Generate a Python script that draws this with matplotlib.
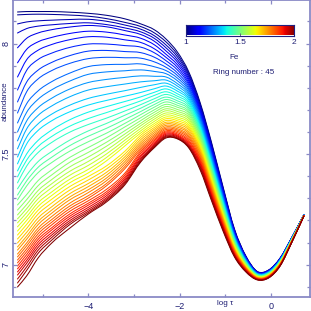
import matplotlib
matplotlib.use('Agg')
import matplotlib.pyplot as plt
import numpy as np
from matplotlib.ticker import MultipleLocator
from matplotlib.path import Path
from matplotlib.patches import PathPatch

# ---------------- data ----------------
log_tau = [-5.55, -5.35, -5.1, -4.8, -4.4, -4.0, -3.6, -3.2, -2.85, -2.55, -2.3, -2.05,
           -1.8, -1.55, -1.3, -1.05, -0.8, -0.55, -0.3, -0.05, 0.2, 0.45, 0.72]

ring_01 = [8.143, 8.145, 8.145, 8.145, 8.142, 8.137, 8.128, 8.112, 8.089, 8.062, 8.021, 7.962, 7.872, 7.732, 7.551, 7.352, 7.161, 7.039, 6.969, 6.976, 7.030, 7.121, 7.225]
ring_02 = [8.130, 8.132, 8.133, 8.132, 8.129, 8.124, 8.113, 8.096, 8.077, 8.048, 8.008, 7.951, 7.864, 7.725, 7.545, 7.347, 7.158, 7.037, 6.968, 6.975, 7.029, 7.120, 7.225]
ring_03 = [8.089, 8.098, 8.103, 8.106, 8.109, 8.110, 8.101, 8.084, 8.065, 8.035, 7.994, 7.940, 7.856, 7.718, 7.539, 7.343, 7.155, 7.036, 6.967, 6.974, 7.028, 7.120, 7.225]
ring_04 = [8.048, 8.068, 8.079, 8.085, 8.091, 8.094, 8.086, 8.071, 8.053, 8.023, 7.981, 7.928, 7.848, 7.711, 7.533, 7.338, 7.152, 7.034, 6.966, 6.974, 7.028, 7.119, 7.225]
ring_05 = [7.981, 8.024, 8.048, 8.063, 8.075, 8.082, 8.076, 8.059, 8.041, 8.010, 7.967, 7.917, 7.839, 7.704, 7.527, 7.334, 7.150, 7.032, 6.966, 6.973, 7.027, 7.119, 7.225]
ring_06 = [7.913, 7.974, 8.008, 8.028, 8.046, 8.056, 8.052, 8.039, 8.024, 7.994, 7.952, 7.905, 7.831, 7.697, 7.521, 7.329, 7.147, 7.031, 6.965, 6.972, 7.026, 7.118, 7.224]
ring_07 = [7.849, 7.927, 7.970, 7.996, 8.018, 8.031, 8.029, 8.017, 8.005, 7.976, 7.938, 7.893, 7.822, 7.691, 7.515, 7.325, 7.144, 7.029, 6.964, 6.971, 7.025, 7.118, 7.224]
ring_08 = [7.790, 7.879, 7.928, 7.957, 7.983, 7.998, 7.998, 7.991, 7.984, 7.958, 7.923, 7.881, 7.814, 7.684, 7.509, 7.320, 7.141, 7.028, 6.963, 6.970, 7.024, 7.117, 7.224]
ring_09 = [7.736, 7.826, 7.880, 7.915, 7.946, 7.966, 7.969, 7.964, 7.959, 7.938, 7.908, 7.868, 7.805, 7.677, 7.503, 7.316, 7.138, 7.026, 6.962, 6.969, 7.023, 7.117, 7.224]
ring_10 = [7.686, 7.782, 7.840, 7.878, 7.911, 7.932, 7.938, 7.936, 7.934, 7.917, 7.893, 7.856, 7.796, 7.670, 7.497, 7.311, 7.135, 7.024, 6.961, 6.969, 7.023, 7.116, 7.224]
ring_11 = [7.641, 7.728, 7.786, 7.828, 7.867, 7.896, 7.905, 7.906, 7.908, 7.895, 7.878, 7.844, 7.788, 7.663, 7.491, 7.307, 7.132, 7.023, 6.960, 6.968, 7.022, 7.116, 7.224]
ring_12 = [7.600, 7.689, 7.748, 7.791, 7.831, 7.861, 7.872, 7.877, 7.881, 7.874, 7.864, 7.832, 7.779, 7.656, 7.485, 7.302, 7.129, 7.021, 6.959, 6.967, 7.021, 7.115, 7.224]
ring_13 = [7.560, 7.650, 7.710, 7.753, 7.795, 7.824, 7.838, 7.847, 7.854, 7.852, 7.849, 7.819, 7.771, 7.649, 7.479, 7.297, 7.127, 7.019, 6.959, 6.966, 7.020, 7.115, 7.224]
ring_14 = [7.524, 7.614, 7.675, 7.718, 7.760, 7.790, 7.805, 7.817, 7.827, 7.832, 7.835, 7.808, 7.762, 7.642, 7.473, 7.293, 7.124, 7.018, 6.958, 6.965, 7.019, 7.114, 7.224]
ring_15 = [7.487, 7.577, 7.637, 7.681, 7.722, 7.752, 7.771, 7.787, 7.802, 7.814, 7.821, 7.796, 7.753, 7.635, 7.467, 7.288, 7.121, 7.016, 6.957, 6.965, 7.019, 7.114, 7.223]
ring_16 = [7.456, 7.546, 7.607, 7.651, 7.692, 7.722, 7.743, 7.762, 7.779, 7.796, 7.808, 7.785, 7.745, 7.628, 7.461, 7.284, 7.118, 7.014, 6.956, 6.964, 7.018, 7.113, 7.223]
ring_17 = [7.424, 7.501, 7.562, 7.609, 7.656, 7.690, 7.715, 7.738, 7.759, 7.780, 7.795, 7.773, 7.736, 7.621, 7.455, 7.279, 7.115, 7.013, 6.955, 6.963, 7.017, 7.113, 7.223]
ring_18 = [7.397, 7.473, 7.534, 7.580, 7.627, 7.661, 7.688, 7.716, 7.741, 7.766, 7.782, 7.762, 7.728, 7.615, 7.449, 7.275, 7.112, 7.011, 6.954, 6.962, 7.016, 7.112, 7.223]
ring_19 = [7.370, 7.446, 7.507, 7.553, 7.600, 7.634, 7.663, 7.695, 7.724, 7.751, 7.770, 7.752, 7.719, 7.608, 7.443, 7.270, 7.109, 7.010, 6.953, 6.961, 7.015, 7.112, 7.223]
ring_20 = [7.343, 7.405, 7.466, 7.512, 7.564, 7.605, 7.639, 7.676, 7.708, 7.738, 7.758, 7.741, 7.710, 7.601, 7.437, 7.266, 7.107, 7.008, 6.953, 6.960, 7.014, 7.111, 7.223]
ring_21 = [7.315, 7.379, 7.440, 7.486, 7.539, 7.581, 7.617, 7.657, 7.693, 7.725, 7.747, 7.731, 7.702, 7.594, 7.431, 7.261, 7.104, 7.006, 6.952, 6.960, 7.014, 7.111, 7.223]
ring_22 = [7.293, 7.356, 7.416, 7.462, 7.514, 7.556, 7.595, 7.639, 7.679, 7.713, 7.736, 7.721, 7.693, 7.587, 7.425, 7.257, 7.101, 7.005, 6.951, 6.959, 7.013, 7.110, 7.223]
ring_23 = [7.270, 7.317, 7.380, 7.429, 7.486, 7.530, 7.574, 7.623, 7.665, 7.701, 7.725, 7.712, 7.685, 7.580, 7.420, 7.252, 7.098, 7.003, 6.950, 6.958, 7.012, 7.109, 7.222]
ring_24 = [7.247, 7.294, 7.357, 7.406, 7.464, 7.508, 7.554, 7.606, 7.652, 7.690, 7.715, 7.702, 7.676, 7.573, 7.414, 7.247, 7.095, 7.001, 6.949, 6.957, 7.011, 7.109, 7.222]
ring_25 = [7.225, 7.272, 7.335, 7.385, 7.443, 7.487, 7.536, 7.591, 7.640, 7.679, 7.705, 7.693, 7.667, 7.566, 7.408, 7.243, 7.092, 7.000, 6.948, 6.956, 7.010, 7.108, 7.222]
ring_26 = [7.207, 7.253, 7.316, 7.366, 7.423, 7.467, 7.518, 7.577, 7.629, 7.669, 7.696, 7.684, 7.659, 7.559, 7.402, 7.238, 7.089, 6.998, 6.947, 6.956, 7.010, 7.108, 7.222]
ring_27 = [7.189, 7.235, 7.298, 7.348, 7.405, 7.449, 7.501, 7.563, 7.617, 7.659, 7.686, 7.676, 7.650, 7.552, 7.396, 7.234, 7.087, 6.996, 6.947, 6.955, 7.009, 7.107, 7.222]
ring_28 = [7.171, 7.217, 7.280, 7.329, 7.387, 7.431, 7.485, 7.550, 7.606, 7.649, 7.677, 7.667, 7.642, 7.545, 7.390, 7.229, 7.084, 6.995, 6.946, 6.954, 7.008, 7.107, 7.222]
ring_29 = [7.152, 7.200, 7.263, 7.313, 7.371, 7.415, 7.470, 7.537, 7.596, 7.639, 7.668, 7.659, 7.633, 7.539, 7.384, 7.225, 7.081, 6.993, 6.945, 6.953, 7.007, 7.106, 7.222]
ring_30 = [7.134, 7.182, 7.246, 7.296, 7.354, 7.399, 7.447, 7.513, 7.586, 7.630, 7.660, 7.651, 7.625, 7.532, 7.378, 7.220, 7.078, 6.992, 6.944, 6.952, 7.006, 7.106, 7.222]
ring_31 = [7.116, 7.164, 7.229, 7.279, 7.338, 7.383, 7.433, 7.500, 7.576, 7.621, 7.652, 7.643, 7.617, 7.525, 7.372, 7.216, 7.075, 6.990, 6.943, 6.951, 7.005, 7.105, 7.222]
ring_32 = [7.098, 7.146, 7.211, 7.262, 7.322, 7.367, 7.418, 7.488, 7.566, 7.613, 7.644, 7.636, 7.609, 7.518, 7.366, 7.211, 7.072, 6.988, 6.942, 6.951, 7.005, 7.105, 7.221]
ring_33 = [7.080, 7.129, 7.195, 7.247, 7.307, 7.353, 7.405, 7.477, 7.556, 7.605, 7.637, 7.629, 7.600, 7.511, 7.360, 7.207, 7.069, 6.987, 6.941, 6.950, 7.004, 7.104, 7.221]
ring_34 = [7.066, 7.115, 7.181, 7.233, 7.294, 7.339, 7.392, 7.466, 7.547, 7.597, 7.630, 7.622, 7.593, 7.504, 7.354, 7.202, 7.066, 6.985, 6.940, 6.949, 7.003, 7.104, 7.221]
ring_35 = [7.048, 7.098, 7.165, 7.218, 7.279, 7.326, 7.380, 7.455, 7.538, 7.589, 7.623, 7.615, 7.585, 7.497, 7.348, 7.197, 7.064, 6.983, 6.940, 6.948, 7.002, 7.103, 7.221]
ring_36 = [7.035, 7.085, 7.152, 7.204, 7.266, 7.312, 7.367, 7.444, 7.529, 7.582, 7.617, 7.609, 7.578, 7.490, 7.342, 7.193, 7.061, 6.982, 6.939, 6.947, 7.001, 7.103, 7.221]
ring_37 = [7.021, 7.071, 7.139, 7.192, 7.254, 7.301, 7.357, 7.434, 7.521, 7.575, 7.611, 7.603, 7.571, 7.483, 7.336, 7.188, 7.058, 6.980, 6.938, 6.947, 7.001, 7.102, 7.221]
ring_38 = [7.008, 7.058, 7.126, 7.180, 7.242, 7.289, 7.341, 7.414, 7.513, 7.568, 7.605, 7.597, 7.563, 7.476, 7.330, 7.184, 7.055, 6.978, 6.937, 6.946, 7.000, 7.102, 7.221]
ring_39 = [6.994, 7.045, 7.114, 7.167, 7.230, 7.278, 7.330, 7.405, 7.505, 7.562, 7.600, 7.591, 7.557, 7.469, 7.324, 7.179, 7.052, 6.977, 6.936, 6.945, 6.999, 7.101, 7.221]
ring_40 = [6.981, 7.032, 7.102, 7.157, 7.220, 7.269, 7.321, 7.396, 7.496, 7.555, 7.595, 7.586, 7.550, 7.463, 7.318, 7.175, 7.049, 6.975, 6.935, 6.944, 6.998, 7.101, 7.221]
ring_41 = [6.967, 7.019, 7.090, 7.145, 7.210, 7.259, 7.312, 7.388, 7.489, 7.549, 7.590, 7.582, 7.544, 7.456, 7.312, 7.170, 7.046, 6.974, 6.934, 6.943, 6.997, 7.100, 7.220]
ring_42 = [6.953, 7.006, 7.078, 7.134, 7.200, 7.250, 7.303, 7.380, 7.481, 7.543, 7.585, 7.578, 7.539, 7.449, 7.306, 7.166, 7.043, 6.972, 6.934, 6.942, 6.996, 7.100, 7.220]
ring_43 = [6.935, 6.990, 7.065, 7.123, 7.191, 7.242, 7.296, 7.373, 7.475, 7.538, 7.581, 7.574, 7.534, 7.442, 7.300, 7.161, 7.041, 6.970, 6.933, 6.942, 6.996, 7.099, 7.220]
ring_44 = [6.917, 6.974, 7.051, 7.111, 7.182, 7.235, 7.290, 7.367, 7.469, 7.534, 7.577, 7.571, 7.531, 7.435, 7.294, 7.157, 7.038, 6.969, 6.932, 6.941, 6.995, 7.099, 7.220]
ring_45 = [6.899, 6.949, 7.030, 7.098, 7.166, 7.229, 7.284, 7.361, 7.465, 7.530, 7.573, 7.569, 7.528, 7.428, 7.288, 7.152, 7.035, 6.967, 6.931, 6.940, 6.994, 7.098, 7.220]

rings = [ring_01, ring_02, ring_03, ring_04, ring_05, ring_06, ring_07, ring_08, ring_09,
         ring_10, ring_11, ring_12, ring_13, ring_14, ring_15, ring_16, ring_17, ring_18,
         ring_19, ring_20, ring_21, ring_22, ring_23, ring_24, ring_25, ring_26, ring_27,
         ring_28, ring_29, ring_30, ring_31, ring_32, ring_33, ring_34, ring_35, ring_36,
         ring_37, ring_38, ring_39, ring_40, ring_41, ring_42, ring_43, ring_44, ring_45]

ring_number = 45
element = 'Fe'
cbar_range = [1.0, 2.0]
cbar_ticks = [1.0, 1.5, 2.0]
cbar_tick_labels = ['1', '1.5', '2']
x_ticks = [-4, -2, 0]
x_tick_labels = ['\u22124', '\u22122', '0']
y_ticks = [7.0, 7.5, 8.0]
y_tick_labels = ['7', '7.5', '8']

# ---------------- style ----------------
plt.rcParams['font.family'] = ['Liberation Sans', 'DejaVu Sans']
AXIS_COLOR = '#8a8ac6'
TEXT_COLOR = '#1e1e74'


def smooth_path(xs, ys):
    """Cubic Bezier path passing through every data point (smooth line style)."""
    x = np.asarray(xs, float)
    y = np.asarray(ys, float)
    h = np.diff(x)
    d = np.diff(y) / h
    m = np.empty_like(y)
    m[0], m[-1] = d[0], d[-1]
    m[1:-1] = (h[:-1] * d[1:] + h[1:] * d[:-1]) / (h[:-1] + h[1:])
    verts = [(x[0], y[0])]
    codes = [Path.MOVETO]
    for i in range(len(x) - 1):
        verts += [(x[i] + h[i] / 3, y[i] + m[i] * h[i] / 3),
                  (x[i + 1] - h[i] / 3, y[i + 1] - m[i + 1] * h[i] / 3),
                  (x[i + 1], y[i + 1])]
        codes += [Path.CURVE4] * 3
    return Path(verts, codes)


fig = plt.figure(figsize=(3.11, 3.11), dpi=100)
ax = fig.add_axes([0.0428, 0.046, 0.954, 0.9524])

cmap = plt.get_cmap('jet')
n = len(rings)
for i, r in enumerate(rings):
    ax.add_patch(PathPatch(smooth_path(log_tau, r), fill=False,
                           edgecolor=cmap(i / (n - 1)), lw=0.75, capstyle='round'))

ax.set_xlim(-5.642, 0.854)
ax.set_ylim(6.855, 8.195)

ax.set_xticks(x_ticks)
ax.set_xticklabels(x_tick_labels)
ax.set_yticks(y_ticks)
ax.set_yticklabels(y_tick_labels, rotation=90, va='center')
ax.xaxis.set_minor_locator(MultipleLocator(1))
ax.yaxis.set_minor_locator(MultipleLocator(0.1))
ax.tick_params(which='both', direction='in', top=True, right=True,
               color=AXIS_COLOR, labelcolor=TEXT_COLOR, labelsize=6.5, width=0.9)
ax.tick_params(which='major', length=3.2)
ax.tick_params(which='minor', length=2.2)
ax.tick_params(axis='x', pad=3.5)
ax.tick_params(axis='y', pad=2.0)
for s in ax.spines.values():
    s.set_color(AXIS_COLOR)
    s.set_linewidth(1.3)

# axis titles placed like the original (x title among the tick labels)
ax.text(-1, -0.012, 'log \u03c4', transform=ax.get_xaxis_transform(),
        ha='center', va='top', fontsize=5.8, color=TEXT_COLOR)
fig.text(5.5 / 311, 1 - 101 / 311, 'abundance', rotation=90, ha='center', va='center',
         fontsize=5.8, color=TEXT_COLOR)

# colour bar inset
cax = fig.add_axes([186 / 311, 1 - 35.5 / 311, 108 / 311, 10.5 / 311])
grad = np.linspace(cbar_range[0], cbar_range[1], 256).reshape(1, -1)
cax.imshow(grad, cmap=cmap, aspect='auto',
           extent=[cbar_range[0], cbar_range[1], 0, 1], vmin=cbar_range[0], vmax=cbar_range[1])
cax.set_xlim(cbar_range)
cax.set_yticks([])
cax.set_xticks(cbar_ticks)
cax.set_xticklabels(cbar_tick_labels)
cax.tick_params(axis='x', direction='in', length=2, width=0.6, color='#555577',
                labelcolor=TEXT_COLOR, labelsize=6, pad=2.5)
for s in cax.spines.values():
    s.set_color('#202080')
    s.set_linewidth(0.8)

fig.text(234 / 311, 1 - 57.5 / 311, element, ha='center', va='center',
         fontsize=5.8, color=TEXT_COLOR)
fig.text(244 / 311, 1 - 72 / 311, 'Ring number : %d' % ring_number, ha='center', va='center',
         fontsize=5.8, color=TEXT_COLOR)

fig.savefig('out.png', dpi=100)
